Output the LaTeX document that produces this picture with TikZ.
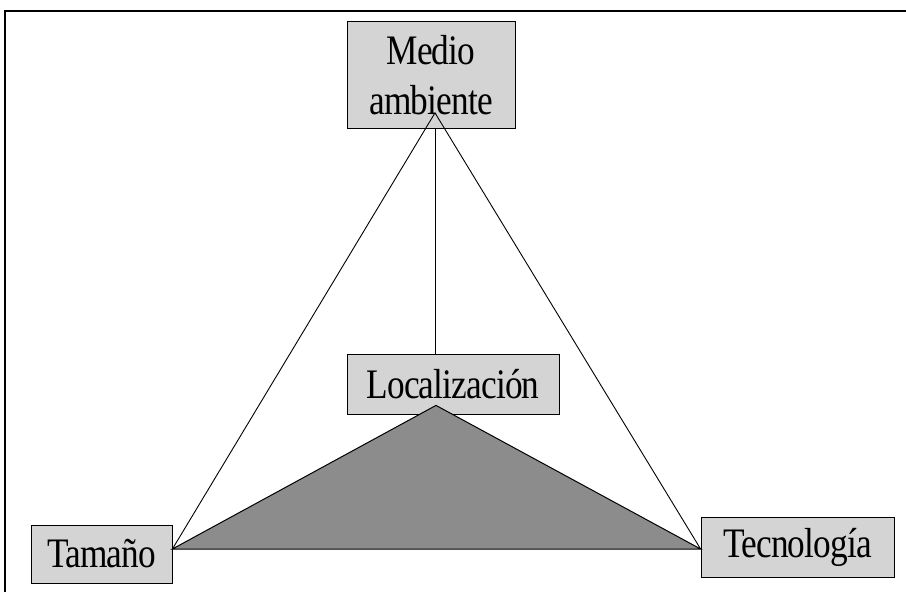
\documentclass[tikz,border=0pt]{standalone}
\usepackage{fontspec}
\newfontfamily\condserif[FakeStretch=0.84,LetterSpace=-2]{Liberation Serif}
\usetikzlibrary{positioning, calc}

\begin{document}
\begin{tikzpicture}[
  x=1pt, y=-1pt,
  factor/.style={
    draw=black, fill=black!17, line width=0.8pt,
    font=\condserif\fontsize{42}{50}\selectfont,
    align=center, inner sep=0pt
  },
  link/.style={draw=black, line width=0.9pt},
  wedge/.style={draw=black, fill=black!45, line width=1pt},
  frame/.style={draw=black, line width=1.6pt}
]
\useasboundingbox (0,0) rectangle (906,592);

%% marco (solo arriba e izquierda)
\coordinate (fa) at (906,11);
\coordinate (fb) at (5,11);
\coordinate (fc) at (5,592);
\draw[frame] (fa) -- (fb) -- (fc);

%% factores
\node[factor, minimum width=168, minimum height=107] (medio) at (431,75)
  {Medio\\ambiente};
\node[factor, minimum width=212, minimum height=60] (loc) at (453,384)
  {Localización};
\node[factor, minimum width=141, minimum height=58] (tam) at (101.5,554)
  {Tamaño};
\node[factor, minimum width=193, minimum height=60] (tec) at (797.5,547)
  {Tecnología};

%% puntos de enlace
\coordinate (vert) at ($(medio.south)+(4,-16)$);
\coordinate (apex) at ($(loc.south)+(-17,-9)$);
\coordinate (left) at ([yshift=5pt]tam.east);
\coordinate (right) at ([yshift=-2pt]tec.west);

%% triangulo de localizacion
\draw[wedge] (apex) -- (left) -- (right) -- cycle;

%% enlaces con medio ambiente
\draw[link] (left) -- (vert) -- (right);
\draw[link] (vert |- medio.south) -- (vert |- loc.north);

\end{tikzpicture}
\end{document}
